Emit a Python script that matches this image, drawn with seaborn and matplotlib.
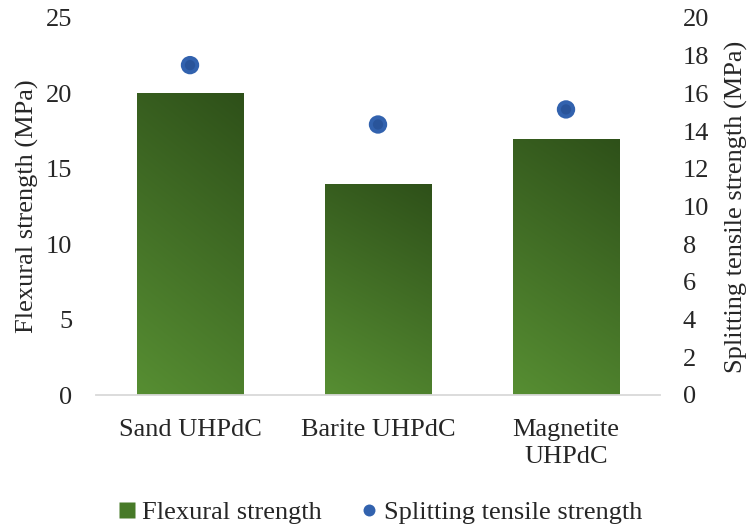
import numpy as np
import pandas as pd
import matplotlib
matplotlib.use("Agg")
import matplotlib.pyplot as plt
from matplotlib.lines import Line2D
from matplotlib.colors import to_rgb
import seaborn as sns

# Data
mixes = ["Sand UHPdC", "Barite UHPdC", "Magnetite\nUHPdC"]
flexural = [20.0, 14.0, 17.0]
splitting = [17.5, 14.35, 15.15]

left_ticks = [0, 5, 10, 15, 20, 25]
right_ticks = [0, 2, 4, 6, 8, 10, 12, 14, 16, 18, 20]

sns.set_theme(style="white")
plt.rcParams["font.family"] = ["Liberation Serif", "DejaVu Serif"]
FS = 19

fig = plt.figure(figsize=(7.49, 5.29), dpi=100)
ax = fig.add_axes([96 / 749, (529 - 395) / 529, (660 - 96) / 749, (395 - 18) / 529])

df = pd.DataFrame({"mix": mixes, "flexural": flexural})
sns.barplot(data=df, x="mix", y="flexural", ax=ax, width=0.564,
            color="#4a7a2b", saturation=1, linewidth=0)

# Shade each bar with a diagonal green gradient (dark top-right, light bottom-left)
dark = np.array(to_rgb("#2e5019"))
light = np.array(to_rgb("#568d32"))
ny, nx = 200, 60
v = np.linspace(1, 0, ny)[:, None]   # 1 at top
u = np.linspace(0, 1, nx)[None, :]   # 1 at right
t = np.clip(0.80 * v + 0.22 * u - 0.02, 0, 1)
grad = light[None, None, :] * (1 - t[..., None]) + dark[None, None, :] * t[..., None]
for p in ax.patches:
    x0, y0 = p.get_x(), p.get_y()
    w, h = p.get_width(), p.get_height()
    im = ax.imshow(grad, extent=(x0, x0 + w, y0, y0 + h), aspect="auto",
                   origin="upper", zorder=2, interpolation="bilinear")
    im.set_clip_path(p)

ax.set_xlim(-0.5, 2.5)
ax.set_ylim(0, 25)
ax.set_yticks(left_ticks)
ax.set_yticklabels([str(v) for v in left_ticks], fontsize=FS)
ax.set_xticks(range(len(mixes)))
ax.set_xticklabels(mixes, fontsize=FS, linespacing=1.3)
ax.tick_params(axis="y", length=0, pad=17)
ax.tick_params(axis="x", length=0, pad=17)
ax.set_xlabel("")
ax.set_ylabel("Flexural strength (MPa)", fontsize=FS, labelpad=5)
for s in ["top", "right", "left"]:
    ax.spines[s].set_visible(False)
ax.spines["bottom"].set_color("#d9d9d9")
ax.spines["bottom"].set_linewidth(1.3)

# Secondary axis: splitting tensile strength
ax2 = ax.twinx()
pos = np.arange(len(mixes))
sns.scatterplot(x=pos, y=splitting, ax=ax2, s=175, color="#3262ae",
                edgecolor="none", zorder=3, legend=False)
sns.scatterplot(x=pos, y=splitting, ax=ax2, s=55, color="#234b8e",
                edgecolor="none", alpha=0.6, zorder=4, legend=False)
ax2.set_ylim(0, 20)
ax2.set_yticks(right_ticks)
ax2.set_yticklabels([str(v) for v in right_ticks], fontsize=FS)
ax2.tick_params(axis="y", length=0, pad=16.5)
ax2.set_ylabel("Splitting tensile strength (MPa)", fontsize=FS, labelpad=11)
for s in ["top", "right", "left", "bottom"]:
    ax2.spines[s].set_visible(False)
ax2.set_xlim(-0.5, 2.5)

handles = [
    Line2D([], [], marker="s", linestyle="none", markersize=11,
           markerfacecolor="#477a28", markeredgecolor="none",
           label="Flexural strength"),
    Line2D([], [], marker="o", linestyle="none", markersize=8.6,
           markerfacecolor="#3262ae", markeredgecolor="none",
           label="Splitting tensile strength"),
]
fig.legend(handles=handles, loc="center", bbox_to_anchor=(378 / 749, (529 - 512) / 529),
           ncol=2, frameon=False, fontsize=FS, handletextpad=0.05,
           columnspacing=1.3, handlelength=1.0)

fig.savefig("out.png", dpi=100)
